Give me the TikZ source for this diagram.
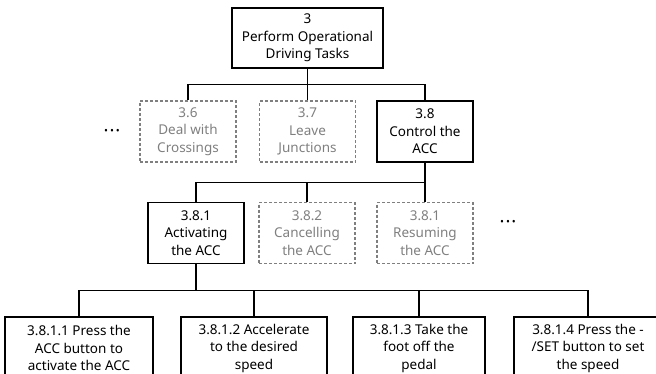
\documentclass[tikz,border=0pt]{standalone}
\usepackage{fontspec}
\setmainfont{Noto Sans}
\usetikzlibrary{positioning}
\definecolor{optGray}{HTML}{7F7F7F}
\newcommand{\moredots}{\textbullet\hspace{2pt}\textbullet\hspace{2pt}\textbullet}
\begin{document}
\begin{tikzpicture}[x=1pt, y=-1pt,
  task/.style={draw, line width=1.1pt, align=center, inner sep=0pt,
    minimum width=96pt, minimum height=61pt,
    font=\fontsize{13.5}{17.5}\selectfont},
  opttask/.style={task, draw=optGray, densely dashed, text=optGray},
  leaf/.style={task, minimum height=62pt},
  link/.style={line width=1.1pt},
  more/.style={font=\fontsize{10.5}{10.5}\selectfont}]
  \useasboundingbox (0,0) rectangle (656,373);
  \clip (0,0) rectangle (656,373);

  % level 1
  \node[task, minimum width=151pt, minimum height=60pt] (root) at (307.5,38)
    {3\\Perform Operational\\Driving Tasks};

  % level 2
  \node[opttask] (c36) at (188,131.5) {3.6\\Deal with\\Crossings};
  \node[opttask] (c37) at (307.5,131.5) {3.7\\Leave\\Junctions};
  \node[task, font=\fontsize{13.5}{17.5}\selectfont\bfseries] (c38) at (425,131.5) {3.8\\Control the\\ACC};
  \node[more] (dotsA) at (112,131.5) {\moredots};

  % level 3
  \node[task, font=\fontsize{13.5}{17.5}\selectfont\bfseries] (c381) at (196,233) {3.8.1\\Activating\\the ACC};
  \node[opttask] (c382) at (307,233) {3.8.2\\Cancelling\\the ACC};
  \node[opttask] (c383) at (425,233) {3.8.1\\Resuming\\the ACC};
  \node[more] (dotsB) at (508,223) {\moredots};

  % level 4
  \node[leaf, minimum width=148pt] (s1) at (79,348) {3.8.1.1 Press the\\ACC button to\\activate the ACC};
  \node[leaf, minimum width=146pt] (s2) at (254,348) {3.8.1.2 Accelerate\\to the desired\\speed};
  \node[leaf, minimum width=132pt] (s3) at (419,348) {3.8.1.3 Take the\\foot off the\\pedal};
  \node[leaf, minimum width=148pt] (s4) at (588,348) {3.8.1.4 Press the -\\/SET button to set\\the speed};

  % connectors
  \draw[link] (root.south) -- ++(0,16) -| (c36.north);
  \draw[link] (root.south) -- (c37.north);
  \draw[link] (root.south) -- ++(0,16) -| (c38.north);

  \draw[link] (c38.south) -- ++(0,20) -| (c381.north);
  \draw[link] (c38.south) -- ++(0,20) -| (c382.north);
  \draw[link] (c38.south) -- (c383.north);

  \draw[link] (c381.south) -- ++(0,26) -| (s1.north);
  \draw[link] (c381.south) -- ++(0,26) -| (s2.north);
  \draw[link] (c381.south) -- ++(0,26) -| (s3.north);
  \draw[link] (c381.south) -- ++(0,26) -| (s4.north);
\end{tikzpicture}
\end{document}
